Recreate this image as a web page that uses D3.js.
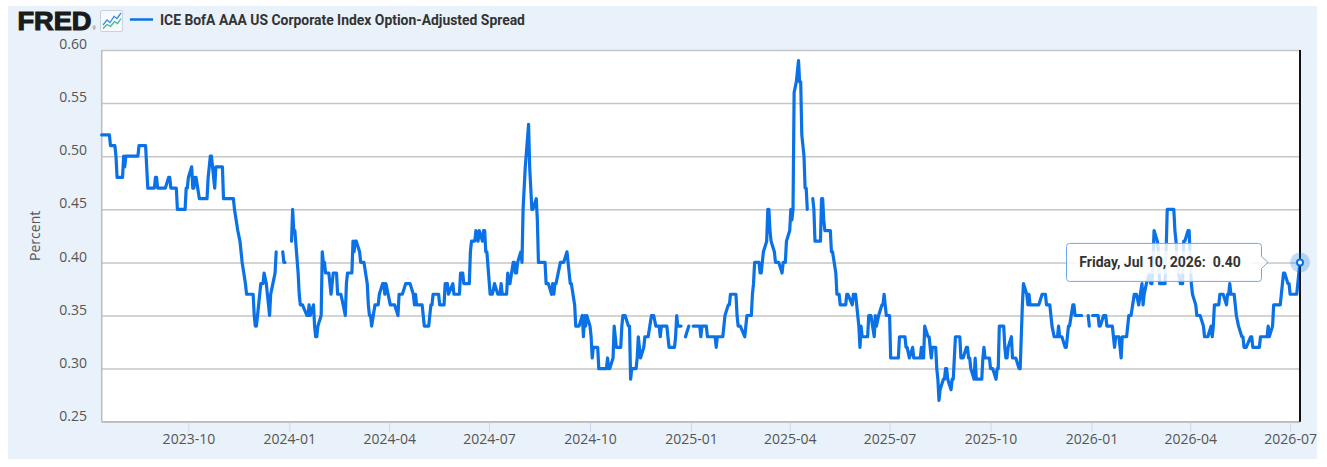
<!DOCTYPE html>
<html>
<head>
<meta charset="utf-8">
<script src="https://cdn.jsdelivr.net/npm/d3@7"></script>
<style>
  body { margin: 0; background: #fff; }
  svg { display: block; }
</style>
</head>
<body>
<svg id="svg" width="1327" height="467"></svg>
<script>
// ---- data ----
const seriesName = "ICE BofA AAA US Corporate Index Option-Adjusted Spread";
const yLabel = "Percent";
const yTicks = [0.25, 0.30, 0.35, 0.40, 0.45, 0.50, 0.55, 0.60];
const xTicks = ["2023-10-01", "2024-01-01", "2024-04-01", "2024-07-01", "2024-10-01", "2025-01-01",
                "2025-04-01", "2025-07-01", "2025-10-01", "2026-01-01", "2026-04-01", "2026-07-01"];
const hoverPoint = ["2026-07-10", 0.40];

const obs2023 = [
  ["2023-07-14",0.52],["2023-07-21",0.52],["2023-07-22",0.51],["2023-07-26",0.51],["2023-07-27",0.50],
  ["2023-07-28",0.48],["2023-08-02",0.48],["2023-08-03",0.50],["2023-08-04",0.49],["2023-08-05",0.50],
  ["2023-08-16",0.50],["2023-08-17",0.51],["2023-08-23",0.51],["2023-08-24",0.49],["2023-08-25",0.47],
  ["2023-08-31",0.47],["2023-09-01",0.48],["2023-09-02",0.48],["2023-09-03",0.47],["2023-09-10",0.47],
  ["2023-09-13",0.48],["2023-09-14",0.48],["2023-09-15",0.47],["2023-09-20",0.47],["2023-09-21",0.45],
  ["2023-09-28",0.45],["2023-09-29",0.47],["2023-09-30",0.47],["2023-10-01",0.48],["2023-10-04",0.49],
  ["2023-10-05",0.47],["2023-10-06",0.47],["2023-10-07",0.48],["2023-10-08",0.48],["2023-10-11",0.46],
  ["2023-10-18",0.46],["2023-10-19",0.48],["2023-10-20",0.49],["2023-10-21",0.50],["2023-10-22",0.50],
  ["2023-10-25",0.47],["2023-10-26",0.49],["2023-11-01",0.49],["2023-11-02",0.46],["2023-11-11",0.46],
  ["2023-11-12",0.45],["2023-11-15",0.43],["2023-11-17",0.42],["2023-11-18",0.41],["2023-11-19",0.40],
  ["2023-11-22",0.38],["2023-11-23",0.37],["2023-11-29",0.37],["2023-11-30",0.35],["2023-12-01",0.34],
  ["2023-12-02",0.34],["2023-12-03",0.35],["2023-12-05",0.37],["2023-12-06",0.38],["2023-12-08",0.38],
  ["2023-12-09",0.39],["2023-12-11",0.38],["2023-12-13",0.36],["2023-12-14",0.35],["2023-12-15",0.37],
  ["2023-12-17",0.38],["2023-12-19",0.39],["2023-12-20",0.41],["2023-12-21",null],["2023-12-26",0.41],
  ["2023-12-27",0.40],["2023-12-28",0.40],["2023-12-29",null]
];

const obs2024 = [
  ["2024-01-03",0.42],["2024-01-04",0.45],["2024-01-05",0.43],["2024-01-06",0.43],["2024-01-09",0.39],
  ["2024-01-10",0.37],["2024-01-11",0.36],["2024-01-13",0.36],["2024-01-17",0.35],["2024-01-18",0.35],
  ["2024-01-19",0.36],["2024-01-20",0.35],["2024-01-23",0.36],["2024-01-24",0.34],["2024-01-25",0.33],
  ["2024-01-26",0.33],["2024-01-27",0.34],["2024-01-30",0.35],["2024-01-31",0.41],["2024-02-01",0.40],
  ["2024-02-02",0.40],["2024-02-03",0.39],["2024-02-06",0.39],["2024-02-07",0.38],["2024-02-08",0.37],
  ["2024-02-09",0.38],["2024-02-10",0.39],["2024-02-13",0.39],["2024-02-14",0.37],["2024-02-17",0.37],
  ["2024-02-21",0.35],["2024-02-22",0.38],["2024-02-23",0.39],["2024-02-27",0.39],["2024-02-28",0.42],
  ["2024-02-29",0.41],["2024-03-01",0.42],["2024-03-02",0.42],["2024-03-05",0.41],["2024-03-06",0.40],
  ["2024-03-09",0.40],["2024-03-12",0.38],["2024-03-13",0.36],["2024-03-14",0.35],["2024-03-15",0.35],
  ["2024-03-16",0.34],["2024-03-19",0.36],["2024-03-22",0.36],["2024-03-23",0.37],["2024-03-26",0.38],
  ["2024-03-27",0.38],["2024-03-28",0.37],["2024-03-29",0.38],["2024-04-02",0.36],["2024-04-06",0.36],
  ["2024-04-09",0.35],["2024-04-10",0.37],["2024-04-13",0.37],["2024-04-16",0.38],["2024-04-20",0.38],
  ["2024-04-23",0.37],["2024-04-24",0.36],["2024-04-25",0.37],["2024-04-26",0.36],["2024-05-01",0.36],
  ["2024-05-02",0.35],["2024-05-03",0.34],["2024-05-07",0.34],["2024-05-08",0.35],["2024-05-09",0.36],
  ["2024-05-10",0.36],["2024-05-11",0.37],["2024-05-16",0.37],["2024-05-17",0.36],["2024-05-21",0.36],
  ["2024-05-22",0.38],["2024-05-24",0.38],["2024-05-25",0.37],["2024-05-29",0.38],["2024-05-30",0.37],
  ["2024-06-04",0.37],["2024-06-05",0.39],["2024-06-07",0.39],["2024-06-08",0.38],["2024-06-13",0.38],
  ["2024-06-14",0.41],["2024-06-15",0.42],["2024-06-18",0.42],["2024-06-19",0.43],["2024-06-21",0.42],
  ["2024-06-22",0.43],["2024-06-25",0.42],["2024-06-26",0.43],["2024-06-27",0.43],["2024-06-28",0.41],
  ["2024-06-29",0.41],["2024-07-02",0.37],["2024-07-04",0.37],["2024-07-06",0.38],["2024-07-09",0.37],
  ["2024-07-11",0.37],["2024-07-12",0.38],["2024-07-13",0.37],["2024-07-17",0.37],["2024-07-18",0.39],
  ["2024-07-19",0.38],["2024-07-20",0.38],["2024-07-23",0.40],["2024-07-24",0.40],["2024-07-25",0.39],
  ["2024-07-26",0.39],["2024-07-27",0.40],["2024-07-30",0.41],["2024-07-31",0.40],["2024-08-01",0.45],
  ["2024-08-02",0.47],["2024-08-03",0.49],["2024-08-06",0.53],["2024-08-07",0.49],["2024-08-08",0.47],
  ["2024-08-09",0.45],["2024-08-10",0.45],["2024-08-13",0.46],["2024-08-14",0.44],["2024-08-15",0.40],
  ["2024-08-21",0.40],["2024-08-22",0.38],["2024-08-24",0.38],["2024-08-27",0.37],["2024-08-28",0.38],
  ["2024-08-29",0.37],["2024-08-30",0.38],["2024-08-31",0.38],["2024-09-04",0.40],["2024-09-07",0.40],
  ["2024-09-10",0.41],["2024-09-11",0.40],["2024-09-12",0.39],["2024-09-13",0.38],["2024-09-14",0.38],
  ["2024-09-17",0.36],["2024-09-18",0.34],["2024-09-21",0.34],["2024-09-24",0.35],["2024-09-25",0.33],
  ["2024-09-26",0.35],["2024-09-27",0.34],["2024-09-28",0.35],["2024-10-01",0.34],["2024-10-02",0.33],
  ["2024-10-03",0.31],["2024-10-04",0.32],["2024-10-08",0.32],["2024-10-09",0.30],["2024-10-16",0.30],
  ["2024-10-17",0.31],["2024-10-18",0.30],["2024-10-19",0.30],["2024-10-22",0.31],["2024-10-23",0.34],
  ["2024-10-24",0.33],["2024-10-25",0.32],["2024-10-29",0.32],["2024-10-30",0.34],["2024-10-31",0.35],
  ["2024-11-02",0.35],["2024-11-05",0.34],["2024-11-06",0.34],["2024-11-07",0.29],["2024-11-08",0.30],
  ["2024-11-12",0.30],["2024-11-13",0.31],["2024-11-14",0.33],["2024-11-15",0.32],["2024-11-16",0.31],
  ["2024-11-19",0.32],["2024-11-20",0.33],["2024-11-23",0.33],["2024-11-26",0.35],["2024-11-28",0.35],
  ["2024-11-30",0.34],["2024-12-03",0.34],["2024-12-04",0.33],["2024-12-05",0.34],["2024-12-10",0.34],
  ["2024-12-11",0.33],["2024-12-12",0.32],["2024-12-17",0.32],["2024-12-18",0.33],["2024-12-19",0.35],
  ["2024-12-20",0.34],["2024-12-23",0.34],["2024-12-24",null],["2024-12-27",0.33],["2024-12-30",0.34],
  ["2024-12-31",null]
];

const obs2025 = [
  ["2025-01-03",0.34],["2025-01-09",0.34],["2025-01-10",0.33],["2025-01-11",0.34],["2025-01-15",0.34],
  ["2025-01-16",0.33],["2025-01-23",0.33],["2025-01-24",0.32],["2025-01-25",0.33],["2025-01-30",0.33],
  ["2025-01-31",0.34],["2025-02-01",0.35],["2025-02-04",0.36],["2025-02-05",0.36],["2025-02-06",0.37],
  ["2025-02-11",0.37],["2025-02-12",0.35],["2025-02-13",0.34],["2025-02-15",0.34],["2025-02-19",0.33],
  ["2025-02-20",0.34],["2025-02-21",0.35],["2025-02-25",0.35],["2025-02-26",0.37],["2025-02-27",0.38],
  ["2025-02-28",0.40],["2025-03-04",0.40],["2025-03-05",0.39],["2025-03-06",0.39],["2025-03-07",0.40],
  ["2025-03-08",0.41],["2025-03-11",0.42],["2025-03-12",0.45],["2025-03-13",0.45],["2025-03-14",0.43],
  ["2025-03-15",0.42],["2025-03-18",0.41],["2025-03-19",0.40],["2025-03-22",0.40],["2025-03-25",0.39],
  ["2025-03-26",0.40],["2025-03-28",0.40],["2025-03-29",0.42],["2025-04-01",0.43],["2025-04-02",0.45],
  ["2025-04-03",0.44],["2025-04-04",0.45],["2025-04-05",0.56],["2025-04-07",0.57],["2025-04-09",0.59],
  ["2025-04-10",0.57],["2025-04-11",0.57],["2025-04-12",0.52],["2025-04-14",0.50],["2025-04-15",0.47],
  ["2025-04-16",0.47],["2025-04-17",0.45],["2025-04-18",null],["2025-04-22",0.46],["2025-04-23",0.45],
  ["2025-04-24",0.42],["2025-04-29",0.42],["2025-04-30",0.46],["2025-05-01",0.46],["2025-05-02",0.44],
  ["2025-05-03",0.43],["2025-05-08",0.43],["2025-05-09",0.41],["2025-05-10",0.41],["2025-05-13",0.39],
  ["2025-05-14",0.37],["2025-05-16",0.37],["2025-05-17",0.36],["2025-05-22",0.36],["2025-05-23",0.37],
  ["2025-05-24",0.37],["2025-05-28",0.36],["2025-05-29",0.37],["2025-05-31",0.37],["2025-06-03",0.34],
  ["2025-06-04",0.32],["2025-06-05",0.34],["2025-06-06",0.33],["2025-06-11",0.33],["2025-06-12",0.35],
  ["2025-06-14",0.35],["2025-06-17",0.33],["2025-06-18",0.35],["2025-06-19",0.34],["2025-06-21",0.35],
  ["2025-06-24",0.36],["2025-06-25",0.36],["2025-06-26",0.37],["2025-06-27",0.36],["2025-06-28",0.35],
  ["2025-07-01",0.35],["2025-07-02",0.31],["2025-07-09",0.31],["2025-07-10",0.33],["2025-07-15",0.33],
  ["2025-07-16",0.32],["2025-07-17",0.32],["2025-07-19",0.31],["2025-07-22",0.32],["2025-07-23",0.31],
  ["2025-07-29",0.31],["2025-07-30",0.32],["2025-07-31",0.31],["2025-08-01",0.31],["2025-08-02",0.34],
  ["2025-08-05",0.33],["2025-08-06",0.33],["2025-08-07",0.32],["2025-08-08",0.31],["2025-08-09",0.32],
  ["2025-08-12",0.32],["2025-08-13",0.30],["2025-08-14",0.29],["2025-08-15",0.27],["2025-08-16",0.28],
  ["2025-08-19",0.29],["2025-08-20",0.29],["2025-08-21",0.30],["2025-08-22",0.30],["2025-08-23",0.29],
  ["2025-08-26",0.28],["2025-08-27",0.29],["2025-08-28",0.29],["2025-08-29",0.31],["2025-08-30",0.33],
  ["2025-09-03",0.33],["2025-09-04",0.31],["2025-09-06",0.31],["2025-09-09",0.32],["2025-09-10",0.32],
  ["2025-09-11",0.31],["2025-09-12",0.31],["2025-09-13",0.30],["2025-09-16",0.29],["2025-09-17",0.31],
  ["2025-09-18",0.29],["2025-09-23",0.29],["2025-09-24",0.31],["2025-09-25",0.32],["2025-09-26",0.31],
  ["2025-09-30",0.31],["2025-10-01",0.30],["2025-10-03",0.30],["2025-10-06",0.29],["2025-10-07",0.30],
  ["2025-10-08",0.30],["2025-10-09",0.34],["2025-10-13",0.34],["2025-10-14",0.32],["2025-10-15",0.31],
  ["2025-10-16",0.31],["2025-10-17",0.32],["2025-10-20",0.33],["2025-10-21",0.31],["2025-10-24",0.31],
  ["2025-10-27",0.30],["2025-10-28",0.30],["2025-10-29",0.33],["2025-10-30",0.36],["2025-10-31",0.38],
  ["2025-11-03",0.37],["2025-11-04",0.36],["2025-11-05",0.37],["2025-11-06",0.36],["2025-11-14",0.36],
  ["2025-11-17",0.37],["2025-11-20",0.37],["2025-11-21",0.36],["2025-11-24",0.36],["2025-11-25",0.35],
  ["2025-11-26",0.34],["2025-11-28",0.33],["2025-12-01",0.33],["2025-12-02",0.34],["2025-12-03",0.33],
  ["2025-12-05",0.33],["2025-12-08",0.32],["2025-12-09",0.32],["2025-12-10",0.33],["2025-12-11",0.34],
  ["2025-12-12",0.34],["2025-12-15",0.36],["2025-12-16",0.36],["2025-12-17",0.35],["2025-12-23",0.35],
  ["2025-12-24",null],["2025-12-29",0.35],["2025-12-30",0.34],["2025-12-31",null]
];

const obs2026 = [
  ["2026-01-02",0.35],["2026-01-07",0.35],["2026-01-08",0.34],["2026-01-09",0.34],["2026-01-12",0.35],
  ["2026-01-14",0.35],["2026-01-15",0.34],["2026-01-20",0.34],["2026-01-21",0.33],["2026-01-22",0.32],
  ["2026-01-23",0.33],["2026-01-26",0.33],["2026-01-27",0.32],["2026-01-28",0.31],["2026-01-29",0.33],
  ["2026-02-02",0.33],["2026-02-04",0.35],["2026-02-06",0.35],["2026-02-09",0.37],["2026-02-11",0.37],
  ["2026-02-13",0.36],["2026-02-16",0.38],["2026-02-17",0.36],["2026-02-18",0.37],["2026-02-20",0.38],
  ["2026-02-23",0.39],["2026-02-24",0.38],["2026-02-25",0.38],["2026-02-26",0.40],["2026-02-27",0.43],
  ["2026-03-02",0.42],["2026-03-03",0.41],["2026-03-04",0.38],["2026-03-09",0.38],["2026-03-10",0.41],
  ["2026-03-11",0.45],["2026-03-17",0.45],["2026-03-18",0.43],["2026-03-19",0.42],["2026-03-20",0.40],
  ["2026-03-23",0.38],["2026-03-25",0.38],["2026-03-26",0.42],["2026-03-27",0.42],["2026-03-30",0.43],
  ["2026-03-31",0.43],["2026-04-01",0.40],["2026-04-02",0.38],["2026-04-03",0.37],["2026-04-06",0.36],
  ["2026-04-07",0.35],["2026-04-10",0.35],["2026-04-13",0.34],["2026-04-14",0.33],["2026-04-17",0.33],
  ["2026-04-20",0.34],["2026-04-21",0.33],["2026-04-22",0.34],["2026-04-23",0.36],["2026-04-27",0.36],
  ["2026-04-28",0.37],["2026-05-01",0.37],["2026-05-04",0.36],["2026-05-05",0.37],["2026-05-06",0.37],
  ["2026-05-07",0.38],["2026-05-08",0.37],["2026-05-11",0.37],["2026-05-12",0.36],["2026-05-13",0.35],
  ["2026-05-15",0.34],["2026-05-18",0.33],["2026-05-19",0.33],["2026-05-20",0.32],["2026-05-22",0.32],
  ["2026-05-26",0.33],["2026-05-27",0.33],["2026-05-28",0.32],["2026-06-03",0.32],["2026-06-04",0.33],
  ["2026-06-10",0.33],["2026-06-11",0.34],["2026-06-12",0.33],["2026-06-15",0.34],["2026-06-16",0.36],
  ["2026-06-22",0.36],["2026-06-23",0.37],["2026-06-24",0.38],["2026-06-25",0.39],["2026-06-26",0.39],
  ["2026-06-29",0.38],["2026-06-30",0.38],["2026-07-01",0.37],["2026-07-07",0.37],["2026-07-08",0.38],
  ["2026-07-09",0.39],["2026-07-10",0.40]
];

// ---- setup ----
const lineColor = "#0a72e6";
const plot = {left: 101.7, top: 50, right: 1300, bottom: 421.7};
const parseDay = d3.utcParse("%Y-%m-%d");

const series = [].concat(obs2023, obs2024, obs2025, obs2026)
  .map(([d, v]) => ({date: parseDay(d), value: v}));

const x = d3.scaleUtc()
  .domain(d3.extent(series, d => d.date))
  .range([plot.left, plot.right]);

const y = d3.scaleLinear()
  .domain([yTicks[0], yTicks[yTicks.length - 1]])
  .range([plot.bottom, plot.top]);

const svg = d3.select("#svg");

// panel + plot background
svg.append("rect").attr("x", 8).attr("y", 6).attr("width", 1309).attr("height", 453)
  .attr("fill", "#e9f1fa");
svg.append("rect").attr("x", plot.left).attr("y", plot.top)
  .attr("width", plot.right - plot.left).attr("height", plot.bottom - plot.top)
  .attr("fill", "#fff");

// y grid + labels
const gy = svg.append("g").attr("transform", `translate(${plot.left},0)`)
  .call(d3.axisLeft(y).tickValues(yTicks).tickSize(-(plot.right - plot.left))
    .tickPadding(14.7).tickFormat(d3.format(".2f")));
gy.select(".domain").remove();
gy.selectAll(".tick line").attr("stroke", "#c6c6c6").attr("stroke-width", 1.5);
gy.selectAll(".tick text")
  .attr("font-family", "'Open Sans', sans-serif").attr("font-size", 14)
  .attr("fill", "#555").attr("dy", "-0.1em");

// x axis
const gx = svg.append("g").attr("transform", `translate(0,${plot.bottom})`)
  .call(d3.axisBottom(x).tickValues(xTicks.map(parseDay)).tickSize(10).tickPadding(2)
    .tickFormat(d3.utcFormat("%Y-%m")));
gx.select(".domain").remove();
gx.selectAll(".tick line").attr("stroke", "#ccd6eb").attr("stroke-width", 1);
gx.selectAll(".tick text")
  .attr("font-family", "'Open Sans', sans-serif").attr("font-size", 14).attr("fill", "#555");

// axis lines
svg.append("line").attr("x1", plot.left).attr("x2", plot.left)
  .attr("y1", plot.top).attr("y2", plot.bottom)
  .attr("stroke", "#bcbcbc").attr("stroke-width", 1.5);
svg.append("line").attr("x1", plot.left).attr("x2", plot.right)
  .attr("y1", plot.bottom).attr("y2", plot.bottom)
  .attr("stroke", "#bcbcbc").attr("stroke-width", 1.5);

svg.append("text")
  .attr("transform", `translate(40,${(plot.top + plot.bottom) / 2}) rotate(-90)`)
  .attr("text-anchor", "middle")
  .attr("font-family", "'Open Sans', sans-serif").attr("font-size", 14).attr("fill", "#555")
  .text(yLabel);

// series line
const line = d3.line()
  .defined(d => d.value != null)
  .x(d => x(d.date))
  .y(d => y(d.value));

svg.append("path").datum(series)
  .attr("d", line)
  .attr("fill", "none").attr("stroke", lineColor).attr("stroke-width", 3.2)
  .attr("stroke-linejoin", "round").attr("stroke-linecap", "round");

// hover crosshair + marker
const hx = x(parseDay(hoverPoint[0]));
const hy = y(hoverPoint[1]);
svg.append("line").attr("x1", hx).attr("x2", hx).attr("y1", plot.top).attr("y2", plot.bottom)
  .attr("stroke", "#111").attr("stroke-width", 2);
svg.append("circle").attr("cx", hx).attr("cy", hy).attr("r", 10)
  .attr("fill", lineColor).attr("fill-opacity", 0.25);
svg.append("circle").attr("cx", hx).attr("cy", hy).attr("r", 3)
  .attr("fill", "#fff").attr("stroke", lineColor).attr("stroke-width", 2);

// tooltip
const tipW = 195, tipH = 38;
const tipR = hx - 38.5, tipL = tipR - tipW, tipT = hy - tipH / 2;
const tip = svg.append("g");
tip.append("path")
  .attr("d", `M${tipL + 3},${tipT} H${tipR - 3} Q${tipR},${tipT} ${tipR},${tipT + 3}
    V${hy - 6} L${hx - 32},${hy} L${tipR},${hy + 6}
    V${tipT + tipH - 3} Q${tipR},${tipT + tipH} ${tipR - 3},${tipT + tipH}
    H${tipL + 3} Q${tipL},${tipT + tipH} ${tipL},${tipT + tipH - 3}
    V${tipT + 3} Q${tipL},${tipT} ${tipL + 3},${tipT} Z`)
  .attr("fill", "rgba(255,255,255,0.82)").attr("stroke", "#6fa8e8").attr("stroke-width", 1);
tip.append("rect").attr("x", tipL + 8.5).attr("y", tipT + 7.5)
  .attr("width", tipW - 17).attr("height", tipH - 15)
  .attr("fill", "rgba(255,255,255,0.6)");
tip.append("text")
  .attr("x", tipL + 12.8).attr("y", hy + 5)
  .attr("font-family", "Roboto, sans-serif").attr("font-weight", "bold")
  .attr("font-size", 14).attr("fill", "#333")
  .style("white-space", "pre")
  .text(d3.utcFormat("%A, %b %-d, %Y")(parseDay(hoverPoint[0])) + ":  " + d3.format(".2f")(hoverPoint[1]));

// header: FRED logo, icon, legend
const head = svg.append("g");
head.append("text").attr("x", 17.5).attr("y", 29.5)
  .attr("font-family", "'Liberation Sans', Arial, sans-serif").attr("font-weight", "bold")
  .attr("font-size", 25.5).attr("fill", "#1b1b1b").attr("stroke", "#1b1b1b").attr("stroke-width", 1.1)
  .attr("textLength", 74).attr("lengthAdjust", "spacingAndGlyphs")
  .text("FRED");
head.append("text").attr("x", 92.5).attr("y", 30)
  .attr("font-family", "Arial, sans-serif").attr("font-size", 4.5).attr("fill", "#555")
  .text("®");
head.append("rect").attr("x", 100.5).attr("y", 10.5).attr("width", 22).attr("height", 21).attr("rx", 1.5)
  .attr("fill", "#f7fafd").attr("stroke", "#c9d2dc");
head.append("path").attr("d", "M103,25 L107,20 L110,22.5 L114,16.5 L117,18.5 L121,13")
  .attr("fill", "none").attr("stroke", "#3b8fe0").attr("stroke-width", 1.3);
head.append("path").attr("d", "M103,28.5 L107,24.5 L110.5,26.5 L114.5,21.5 L117.5,23.5 L121,18.5")
  .attr("fill", "none").attr("stroke", "#3cb98a").attr("stroke-width", 1.3);
head.append("line").attr("x1", 130).attr("x2", 153).attr("y1", 19.5).attr("y2", 19.5)
  .attr("stroke", lineColor).attr("stroke-width", 2.5);
head.append("text").attr("x", 160).attr("y", 24.5)
  .attr("font-family", "Roboto, sans-serif").attr("font-weight", "bold")
  .attr("font-size", 13.9).attr("fill", "#333")
  .text(seriesName);
</script>
</body>
</html>
